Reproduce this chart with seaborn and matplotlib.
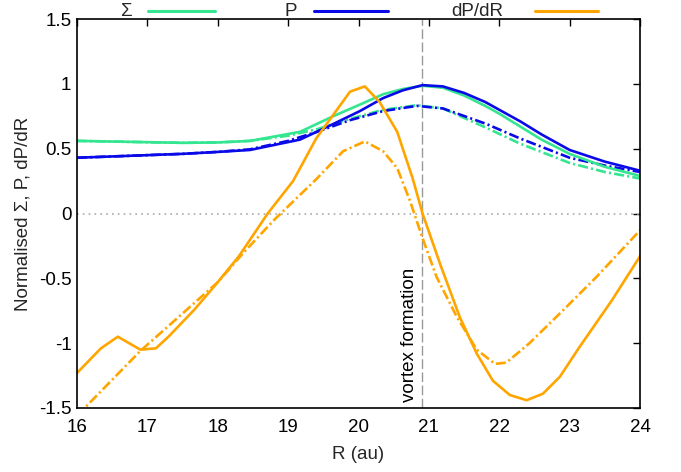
import numpy as np
import pandas as pd
import matplotlib
matplotlib.use("Agg")
import matplotlib.pyplot as plt
from matplotlib.lines import Line2D
import seaborn as sns

# ---------------- data ----------------
R_sig = [16.0, 16.5, 17.0, 17.5, 18.0, 18.46, 19.17, 19.64, 20.02, 20.35, 20.63, 20.91,
         21.2, 21.5, 21.8, 22.0, 22.3, 22.6, 23.0, 23.5, 24.0]
sig_solid = [0.56, 0.555, 0.55, 0.545, 0.548, 0.56, 0.63, 0.75, 0.84, 0.92, 0.96, 0.985,
             0.97, 0.91, 0.83, 0.77, 0.67, 0.57, 0.46, 0.36, 0.29]

R_p = [16.0, 16.5, 17.0, 17.5, 18.0, 18.46, 19.17, 19.64, 20.02, 20.35, 20.63, 20.91,
       21.2, 21.5, 21.8, 22.0, 22.3, 22.6, 23.0, 23.5, 24.0]
p_solid = [0.43, 0.44, 0.45, 0.46, 0.475, 0.49, 0.57, 0.69, 0.79, 0.89, 0.95, 0.99,
           0.98, 0.93, 0.86, 0.80, 0.71, 0.61, 0.49, 0.40, 0.33]

R_sig_dd = [16.0, 16.5, 17.0, 17.5, 18.0, 18.46, 19.0, 19.41, 19.88, 20.35, 20.83,
            21.2, 21.82, 22.29, 23.0, 23.5, 24.0]
sig_dd = [0.56, 0.555, 0.55, 0.545, 0.548, 0.56, 0.6, 0.65, 0.73, 0.80, 0.835,
          0.81, 0.66, 0.54, 0.39, 0.32, 0.27]

R_p_dd = [16.0, 16.5, 17.0, 17.5, 18.0, 18.46, 19.0, 19.41, 19.88, 20.35, 20.83,
          21.2, 21.82, 22.29, 23.0, 23.5, 24.0]
p_dd = [0.43, 0.44, 0.45, 0.46, 0.475, 0.495, 0.56, 0.63, 0.72, 0.79, 0.83,
        0.81, 0.69, 0.58, 0.43, 0.37, 0.32]

R_dp = [16.0, 16.34, 16.58, 16.9, 17.12, 17.3, 17.67, 18.0, 18.3, 18.71, 19.07, 19.4,
        19.88, 20.09, 20.3, 20.55, 20.77, 20.91, 21.16, 21.44, 21.68, 21.91, 22.15,
        22.39, 22.62, 22.86, 23.14, 23.6, 24.0]
dp_solid = [-1.23, -1.04, -0.95, -1.05, -1.04, -0.95, -0.74, -0.53, -0.33, 0.0, 0.25, 0.58,
            0.94, 0.98, 0.86, 0.63, 0.27, 0.0, -0.39, -0.8, -1.08, -1.29, -1.4,
            -1.44, -1.39, -1.26, -1.03, -0.67, -0.33]

R_dp_dd = [16.0, 16.9, 18.0, 18.37, 18.8, 19.41, 19.78, 20.09, 20.35, 20.55, 20.73,
           20.91, 21.11, 21.4, 21.68, 21.94, 22.1, 22.43, 22.9, 23.38, 24.0]
dp_dd = [-1.56, -1.06, -0.53, -0.30, -0.05, 0.27, 0.48, 0.556, 0.48, 0.35, 0.1,
         -0.19, -0.49, -0.8, -1.05, -1.16, -1.15, -1.0, -0.75, -0.49, -0.13]

R_vortex = 20.9
legend_labels = ["Σ", "P", "dP/dR"]

# ---------------- style ----------------
sns.set_theme(style="white")
plt.rcParams["font.family"] = ["Liberation Sans", "DejaVu Sans"]
FS = 13.5
plt.rcParams["font.size"] = FS

c_sig = "#33e68f"
c_p = "#0a0ae8"
c_dp = "#ffa500"
lw = 1.9
dd = (0, (3.8, 1.2, 0.8, 1.2))

W, H = 681, 472
fig = plt.figure(figsize=(W / 100, H / 100), dpi=100)
L, Rr, T, B = 77, 640, 19, 408
ax = fig.add_axes([L / W, 1 - B / H, (Rr - L) / W, (B - T) / H])

def draw(x, y, color, ls):
    df = pd.DataFrame({"R": x, "v": y})
    sns.lineplot(data=df, x="R", y="v", ax=ax, color=color, linewidth=lw,
                 sort=False, estimator=None, legend=False)
    ax.lines[-1].set_linestyle(ls)

ax.axhline(0, color="#aaaaaa", linestyle=(0, (1, 2.5)), linewidth=1.2, zorder=1)
ax.axvline(R_vortex, color="#999999", linestyle=(0, (7, 2.5)), linewidth=1.0, zorder=1)

draw(R_dp_dd, dp_dd, c_dp, dd)
draw(R_sig_dd, sig_dd, c_sig, dd)
draw(R_p_dd, p_dd, c_p, dd)
draw(R_sig, sig_solid, c_sig, "-")
draw(R_p, p_solid, c_p, "-")
draw(R_dp, dp_solid, c_dp, "-")

ax.text(R_vortex - 0.05, -1.45, "vortex formation", rotation=90, ha="right", va="bottom",
        fontsize=FS, color="black")

ax.set_xlim(16, 24)
ax.set_ylim(-1.5, 1.5)
ax.set_xticks(range(16, 25))
ax.set_yticks([-1.5, -1, -0.5, 0, 0.5, 1, 1.5])
ax.set_yticklabels(["-1.5", "-1", "-0.5", "0", "0.5", "1", "1.5"])
ax.tick_params(direction="in", length=5, width=1, top=True, right=True,
               labelsize=FS, colors="black")
ax.tick_params(axis="y", pad=4)
ax.tick_params(axis="x", pad=8)
for s in ax.spines.values():
    s.set_color("black")
    s.set_linewidth(1.2)
ax.set_xlabel("R (au)", fontsize=FS, labelpad=7)
ax.set_ylabel("Normalised Σ, P, dP/dR", fontsize=FS, labelpad=5)

# gnuplot-style key above the plot: right-justified text followed by a line sample
key_text_right = [133, 297, 503]
key_line = [(148, 215), (314, 388), (535, 598)]
key_y = 11
for lab, xr, (x0, x1), col in zip(legend_labels, key_text_right, key_line, [c_sig, c_p, c_dp]):
    fig.text(xr / W, 1 - (key_y + 1) / H, lab, ha="right", va="center", fontsize=FS)
    fig.add_artist(Line2D([x0 / W, x1 / W], [1 - key_y / H, 1 - key_y / H],
                          transform=fig.transFigure, color=col, linewidth=2.2))

fig.savefig("out.png", dpi=100)
